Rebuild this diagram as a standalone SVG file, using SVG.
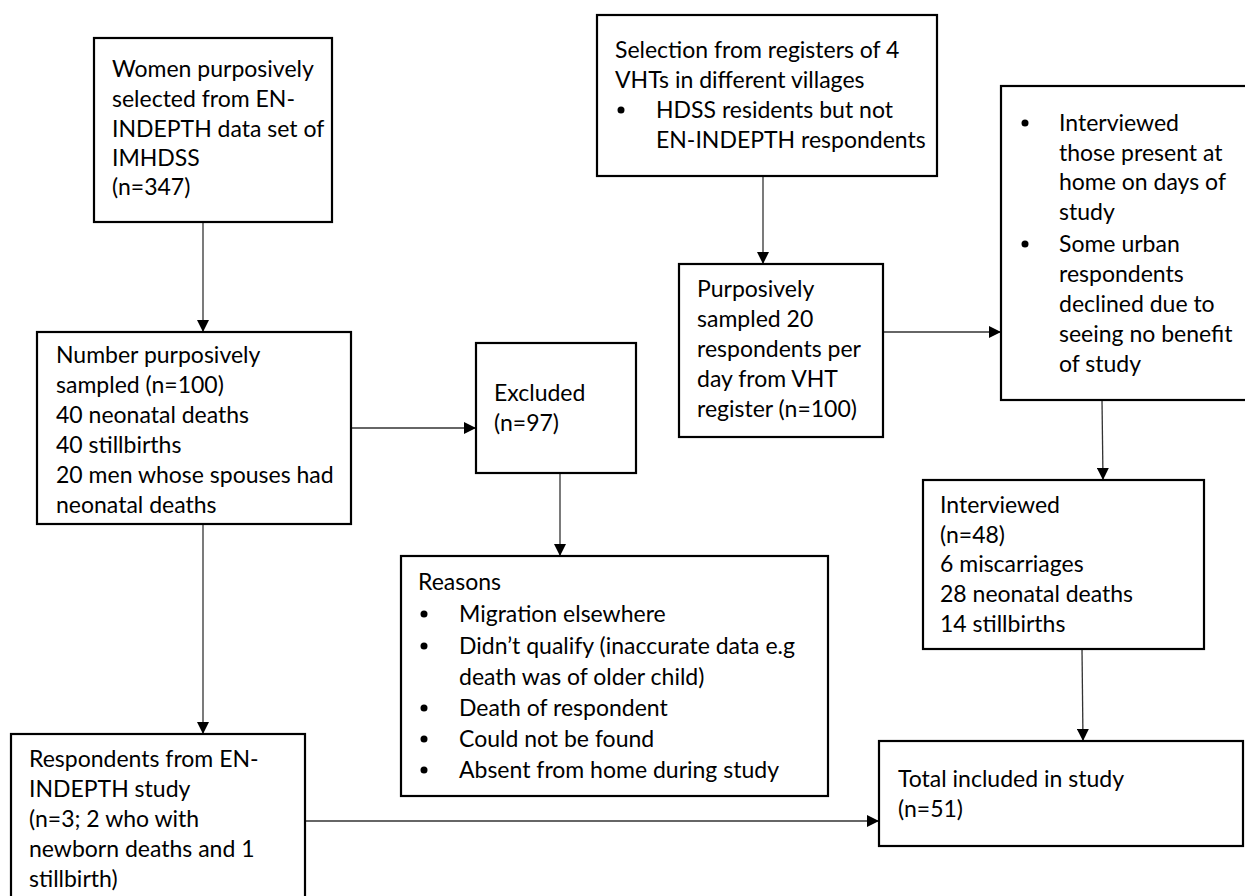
<svg xmlns="http://www.w3.org/2000/svg" width="1245" height="896" viewBox="0 0 1245 896">
<defs>
<style>
.box{fill:#fff;stroke:#000;stroke-width:2.2}
.t{font-family:Lato,"Liberation Sans",sans-serif;font-size:23px;fill:#000}
.c{stroke:#333;stroke-width:1.3;fill:none;marker-end:url(#ah)}
.dot{fill:#000}
</style>
<marker id="ah" viewBox="0 0 12 12" refX="12" refY="6" markerWidth="12" markerHeight="12" markerUnits="userSpaceOnUse" orient="auto">
<path d="M0,0 L12,6 L0,12 z" fill="#000"/>
</marker>
</defs>
<rect width="1245" height="896" fill="#fff"/>
<g id="connectors">
<line class="c" x1="203" y1="222" x2="203" y2="332"/>
<line class="c" x1="351" y1="428" x2="476" y2="428"/>
<line class="c" x1="560" y1="473" x2="560" y2="556"/>
<line class="c" x1="203" y1="524" x2="203" y2="734"/>
<line class="c" x1="305" y1="821" x2="879" y2="821"/>
<line class="c" x1="763" y1="176" x2="763" y2="264"/>
<line class="c" x1="883" y1="332" x2="1001" y2="332"/>
<line class="c" x1="1102" y1="400" x2="1103" y2="480"/>
<line class="c" x1="1082" y1="649" x2="1083" y2="741"/>
</g>
<g id="women">
<rect class="box" x="94" y="38" width="238" height="184"/>
<text class="t" x="112"><tspan x="112" y="77">Women purposively</tspan><tspan x="112" y="107">selected from EN-</tspan><tspan x="112" y="137">INDEPTH data set of</tspan><tspan x="112" y="166">IMHDSS</tspan><tspan x="112" y="195">(n=347)</tspan></text>
</g>
<g id="sampled">
<rect class="box" x="37" y="332" width="314" height="192"/>
<text class="t"><tspan x="56" y="363">Number purposively</tspan><tspan x="56" y="393">sampled (n=100)</tspan><tspan x="56" y="423">40 neonatal deaths</tspan><tspan x="56" y="453">40 stillbirths</tspan><tspan x="56" y="483">20 men whose spouses had</tspan><tspan x="56" y="513">neonatal deaths</tspan></text>
</g>
<g id="excluded">
<rect class="box" x="476" y="343" width="160" height="130"/>
<text class="t"><tspan x="494" y="401">Excluded</tspan><tspan x="494" y="431">(n=97)</tspan></text>
</g>
<g id="reasons">
<rect class="box" x="401" y="556" width="427" height="240"/>
<text class="t"><tspan x="418" y="590">Reasons</tspan><tspan x="459" y="622">Migration elsewhere</tspan><tspan x="459" y="654">Didn’t qualify (inaccurate data e.g</tspan><tspan x="459" y="685">death was of older child)</tspan><tspan x="459" y="716">Death of respondent</tspan><tspan x="459" y="747">Could not be found</tspan><tspan x="459" y="778">Absent from home during study</tspan></text>
<circle class="dot" cx="424" cy="614" r="3.5"/>
<circle class="dot" cx="424" cy="646" r="3.5"/>
<circle class="dot" cx="424" cy="708" r="3.5"/>
<circle class="dot" cx="424" cy="739" r="3.5"/>
<circle class="dot" cx="424" cy="770" r="3.5"/>
</g>
<g id="respondents">
<rect class="box" x="11" y="734" width="294" height="170"/>
<text class="t"><tspan x="29" y="767">Respondents from EN-</tspan><tspan x="29" y="797">INDEPTH study</tspan><tspan x="29" y="827">(n=3; 2 who with</tspan><tspan x="29" y="857">newborn deaths and 1</tspan><tspan x="29" y="887">stillbirth)</tspan></text>
</g>
<g id="selection">
<rect class="box" x="597" y="15" width="340" height="161"/>
<text class="t"><tspan x="615" y="58">Selection from registers of 4</tspan><tspan x="615" y="88">VHTs in different villages</tspan><tspan x="656" y="118">HDSS residents but not</tspan><tspan x="656" y="148">EN-INDEPTH respondents</tspan></text>
<circle class="dot" cx="621" cy="110" r="3.5"/>
</g>
<g id="purposively">
<rect class="box" x="679" y="264" width="204" height="173"/>
<text class="t"><tspan x="697" y="297">Purposively</tspan><tspan x="697" y="327">sampled 20</tspan><tspan x="697" y="357">respondents per</tspan><tspan x="697" y="387">day from VHT</tspan><tspan x="697" y="417">register (n=100)</tspan></text>
</g>
<g id="interviewed-notes">
<rect class="box" x="1001" y="86" width="250" height="314"/>
<text class="t"><tspan x="1059" y="131">Interviewed</tspan><tspan x="1059" y="161">those present at</tspan><tspan x="1059" y="190">home on days of</tspan><tspan x="1059" y="220">study</tspan><tspan x="1059" y="252">Some urban</tspan><tspan x="1059" y="282">respondents</tspan><tspan x="1059" y="312">declined due to</tspan><tspan x="1059" y="342">seeing no benefit</tspan><tspan x="1059" y="372">of study</tspan></text>
<circle class="dot" cx="1025" cy="123" r="3.5"/>
<circle class="dot" cx="1025" cy="244" r="3.5"/>
</g>
<g id="interviewed">
<rect class="box" x="923" y="480" width="281" height="169"/>
<text class="t"><tspan x="940" y="513">Interviewed</tspan><tspan x="940" y="543">(n=48)</tspan><tspan x="940" y="572">6 miscarriages</tspan><tspan x="940" y="602">28 neonatal deaths</tspan><tspan x="940" y="632">14 stillbirths</tspan></text>
</g>
<g id="total">
<rect class="box" x="879" y="741" width="364" height="105"/>
<text class="t"><tspan x="898" y="787">Total included in study</tspan><tspan x="898" y="817">(n=51)</tspan></text>
</g>
</svg>
